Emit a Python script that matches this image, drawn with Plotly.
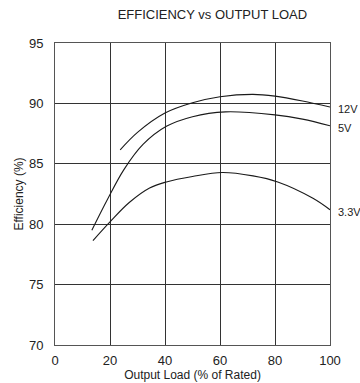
import plotly.graph_objects as go

load_12v = [23.7, 30, 40, 50, 60, 72, 80, 90, 100]
eff_12v = [86.15, 87.6, 89.2, 90.05, 90.55, 90.75, 90.6, 90.2, 89.7]

load_5v = [13.4, 19.2, 25, 32, 40.5, 50, 62, 80, 90, 100]
eff_5v = [79.5, 82.1, 84.5, 86.6, 88.1, 88.9, 89.3, 89.05, 88.7, 88.15]

load_33v = [13.8, 20, 27, 34.4, 40.5, 50, 60.8, 72, 81, 93.8, 100]
eff_33v = [78.65, 80.2, 81.8, 83.0, 83.5, 83.95, 84.28, 84.0, 83.5, 82.15, 81.2]

series = [("12V", load_12v, eff_12v), ("5V", load_5v, eff_5v), ("3.3V", load_33v, eff_33v)]

x_ticks = [0, 20, 40, 60, 80, 100]
y_ticks = [70, 75, 80, 85, 90, 95]

fig = go.Figure()
for name, xs, ys in series:
    fig.add_trace(go.Scatter(x=xs, y=ys, mode="lines", name=name,
                             line=dict(color="#1a1a1a", width=1.1, shape="spline", smoothing=1.0),
                             showlegend=False))
    fig.add_annotation(x=xs[-1], y=ys[-1], text=name, showarrow=False,
                       xanchor="left", yanchor="middle", xshift=6, yshift=-2,
                       font=dict(size=11, color="#222"))

font_family = "Liberation Sans, Arial, sans-serif"
fig.update_layout(
    width=360, height=383,
    margin=dict(l=55, r=30, t=43, b=38),
    paper_bgcolor="white", plot_bgcolor="white",
    font=dict(family=font_family, color="#222", size=12),
    title=dict(text="EFFICIENCY vs OUTPUT LOAD", x=0.59, xanchor="center",
               y=1 - 14 / 383, yanchor="middle", font=dict(size=13, color="#222")),
)
fig.update_xaxes(range=[0, 100], tickvals=x_ticks, ticktext=[str(v) for v in x_ticks],
                 showgrid=True, gridcolor="#333", gridwidth=1, automargin=False,
                 showline=True, linecolor="#555", linewidth=1, mirror=True,
                 zeroline=False, ticks="", tickfont=dict(size=13), ticklabelstandoff=3,
                 title=dict(text="Output Load (% of Rated)", font=dict(size=12), standoff=4))
fig.update_yaxes(range=[70, 95], tickvals=y_ticks, ticktext=[str(v) for v in y_ticks],
                 showgrid=True, gridcolor="#333", gridwidth=1, automargin=False,
                 showline=True, linecolor="#555", linewidth=1, mirror=True,
                 zeroline=False, ticks="", tickfont=dict(size=13), ticklabelstandoff=8,
                 title=dict(text="Efficiency (%)", font=dict(size=12), standoff=2))

fig.write_html("out.html")
